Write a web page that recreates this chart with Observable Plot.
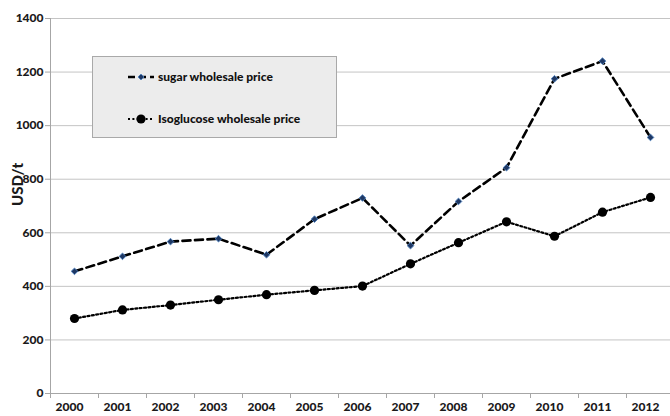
<!DOCTYPE html>
<html>
<head>
<meta charset="utf-8">
<script src="https://cdn.jsdelivr.net/npm/d3@7"></script>
<script src="https://cdn.jsdelivr.net/npm/@observablehq/plot@0.6"></script>
<style>
  html, body { margin: 0; padding: 0; background: #fff; }
  #chart { position: relative; width: 670px; height: 416px; font-family: Lato, "Open Sans", sans-serif; }
  #legend {
    position: absolute; left: 92px; top: 56px; width: 243px; height: 80px;
    background: #ececec; border: 1px solid #a9a9a9;
    font: bold 12px Lato, sans-serif; color: #111;
  }
  .entry { position: absolute; left: 35px; display: flex; align-items: center; gap: 4px; }
  .entry svg { display: block; }
</style>
</head>
<body>
<div id="chart"></div>
<script>
// Annual wholesale prices, USD per tonne
const years = [2000, 2001, 2002, 2003, 2004, 2005, 2006, 2007, 2008, 2009, 2010, 2011, 2012];
const sugarPrice = [456, 512, 567, 578, 518, 651, 730, 552, 717, 843, 1175, 1241, 956];
const isoglucosePrice = [280, 312, 330, 350, 369, 385, 401, 484, 563, 641, 587, 677, 732];
const yTicks = [0, 200, 400, 600, 800, 1000, 1200, 1400];
const seriesNames = ["sugar wholesale price", "Isoglucose wholesale price"];

const sugar = years.map((year, i) => ({year, value: sugarPrice[i]}));
const iso = years.map((year, i) => ({year, value: isoglucosePrice[i]}));
// category boundaries between the years, for the tick marks on the x axis
const bounds = d3.range(years.length + 1).map(i => years[0] - 0.5 + i);

const axisGray = "#a6a6a6";
const plot = Plot.plot({
  width: 670,
  height: 416,
  marginTop: 18,
  marginBottom: 23,
  marginLeft: 50,
  marginRight: 0,
  style: {fontFamily: "Lato, sans-serif", background: "transparent", overflow: "visible"},
  x: {type: "linear", domain: [years[0] - 0.5, years[years.length - 1] + 0.5], range: [50, 674]},
  y: {domain: [0, 1400]},
  marks: [
    Plot.gridY(yTicks, {stroke: "#c4c4c4", strokeOpacity: 1, strokeWidth: 1}),
    Plot.ruleX([bounds[0]], {stroke: axisGray}),
    Plot.ruleY([0], {stroke: axisGray}),
    Plot.axisY(yTicks, {
      tickSize: 5, tickPadding: 2, stroke: axisGray, tickFormat: d => String(d),
      fontSize: 12, fontWeight: 900, fill: "#1a1a1a", label: null
    }),
    Plot.axisX(bounds, {tickSize: 5, stroke: axisGray, text: null, label: null}),
    Plot.axisX(years, {
      tickSize: 0, tickPadding: 9, tickFormat: d => String(d), dx: -5,
      fontSize: 12, fontWeight: 900, fill: "#1a1a1a", label: null
    }),
    Plot.text(["USD/t"], {
      frameAnchor: "left", rotate: -90, dx: -32,
      fontSize: 15, fontWeight: 900, fill: "#1a1a1a"
    }),
    Plot.line(iso, {x: "year", y: "value", stroke: "#000", strokeWidth: 2.2, strokeDasharray: "2,2.4"}),
    Plot.dot(iso, {x: "year", y: "value", r: 4.6, fill: "#000", stroke: "none"}),
    Plot.line(sugar, {x: "year", y: "value", stroke: "#000", strokeWidth: 2.6, strokeDasharray: "8,4.5"}),
    Plot.dot(sugar, {x: "year", y: "value", symbol: "diamond2", r: 3, fill: "#1f3864", stroke: "#4f81bd", strokeWidth: 0.9})
  ]
});
document.getElementById("chart").appendChild(plot);

// legend box placed over the plot area
const legend = document.createElement("div");
legend.id = "legend";
const symbols = [
  `<svg width="26" height="10"><line x1="0" y1="5" x2="26" y2="5" stroke="#000" stroke-width="2.6" stroke-dasharray="7,4"/>
   <path d="M13,2 L16,5 L13,8 L10,5 Z" fill="#1f3864" stroke="#4f81bd" stroke-width="0.9"/></svg>`,
  `<svg width="26" height="12"><line x1="0" y1="6" x2="26" y2="6" stroke="#000" stroke-width="2.2" stroke-dasharray="2,2.4"/>
   <circle cx="13" cy="6" r="4.6" fill="#000"/></svg>`
];
seriesNames.forEach((name, i) => {
  const e = document.createElement("div");
  e.className = "entry";
  e.style.top = (i === 0 ? 12 : 54) + "px";
  e.style.fontWeight = "900";
  e.innerHTML = symbols[i] + `<span>${name}</span>`;
  legend.appendChild(e);
});
document.getElementById("chart").appendChild(legend);
</script>
</body>
</html>
